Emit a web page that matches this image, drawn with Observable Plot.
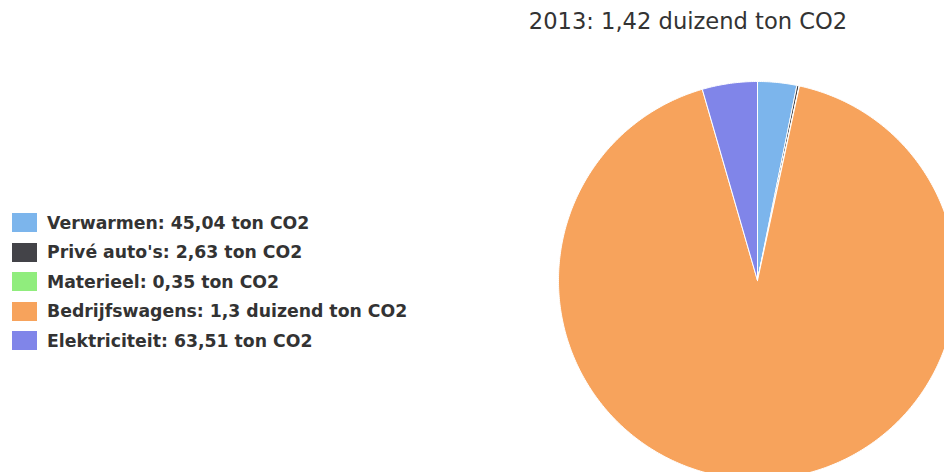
<!DOCTYPE html>
<html>
<head>
<meta charset="utf-8">
<script src="https://cdn.jsdelivr.net/npm/d3@7"></script>
<script src="https://cdn.jsdelivr.net/npm/@observablehq/plot@0.6"></script>
<style>
  html, body { margin: 0; padding: 0; background: #fff; }
  #wrap { position: relative; width: 944px; height: 472px; overflow: hidden; }
  #title { position: absolute; left: 0; top: 8px; width: 1376px; text-align: center;
    font-family: "DejaVu Sans", sans-serif; font-size: 22.6px; color: #333333; white-space: nowrap; }
  #legend { position: absolute; left: 12px; top: 208px; font-family: "DejaVu Sans", sans-serif;
    font-weight: bold; font-size: 17.3px; color: #333333; }
  .row { display: flex; align-items: center; height: 29.5px; white-space: nowrap; }
  .sw { width: 25px; height: 19px; margin-right: 10px; flex: none; }
</style>
</head>
<body>
<div id="wrap">
  <div id="chart"></div>
  <div id="title"></div>
  <div id="legend"></div>
</div>
<script>
const titleText = "2013: 1,42 duizend ton CO2";
const categories = ["Verwarmen", "Privé auto's", "Materieel", "Bedrijfswagens", "Elektriciteit"];
const values = [45.04, 2.63, 0.35, 1308.47, 63.51];
const valueLabels = ["45,04 ton CO2", "2,63 ton CO2", "0,35 ton CO2", "1,3 duizend ton CO2", "63,51 ton CO2"];
const colors = ["#7cb5ec", "#434348", "#90ed7d", "#f7a35c", "#8085e9"];

const W = 944, H = 472, cx = 757, cy = 280, R = 199;

const data = categories.map((c, i) => ({category: c, value: values[i]}));
const arcs = d3.pie().sort(null).value(d => d.value).startAngle(0).endAngle(2 * Math.PI)(data);

// slice outlines in unit-circle data space (clockwise from 12 o'clock)
const pts = [];
arcs.forEach(a => {
  const c = a.data.category;
  pts.push({category: c, x: 0, y: 0});
  const n = Math.max(2, Math.ceil((a.endAngle - a.startAngle) / 0.01));
  for (let k = 0; k <= n; k++) {
    const t = a.startAngle + (a.endAngle - a.startAngle) * k / n;
    pts.push({category: c, x: Math.sin(t), y: Math.cos(t)});
  }
  pts.push({category: c, x: 0, y: 0});
});

const chart = Plot.plot({
  width: W, height: H,
  margin: 0,
  x: {domain: [-cx / R, (W - cx) / R], axis: null},
  y: {domain: [-(H - cy) / R, cy / R], axis: null},
  color: {domain: categories, range: colors},
  marks: [
    Plot.line(pts, {x: "x", y: "y", z: "category", fill: "category", stroke: "white", strokeWidth: 1, curve: "linear-closed"})
  ]
});
document.getElementById("chart").appendChild(chart);

document.getElementById("title").textContent = titleText;
const leg = document.getElementById("legend");
categories.forEach((c, i) => {
  const row = document.createElement("div");
  row.className = "row";
  const sw = document.createElement("div");
  sw.className = "sw";
  sw.style.background = colors[i];
  const tx = document.createElement("span");
  tx.textContent = c + ": " + valueLabels[i];
  row.appendChild(sw); row.appendChild(tx);
  leg.appendChild(row);
});
</script>
</body>
</html>
